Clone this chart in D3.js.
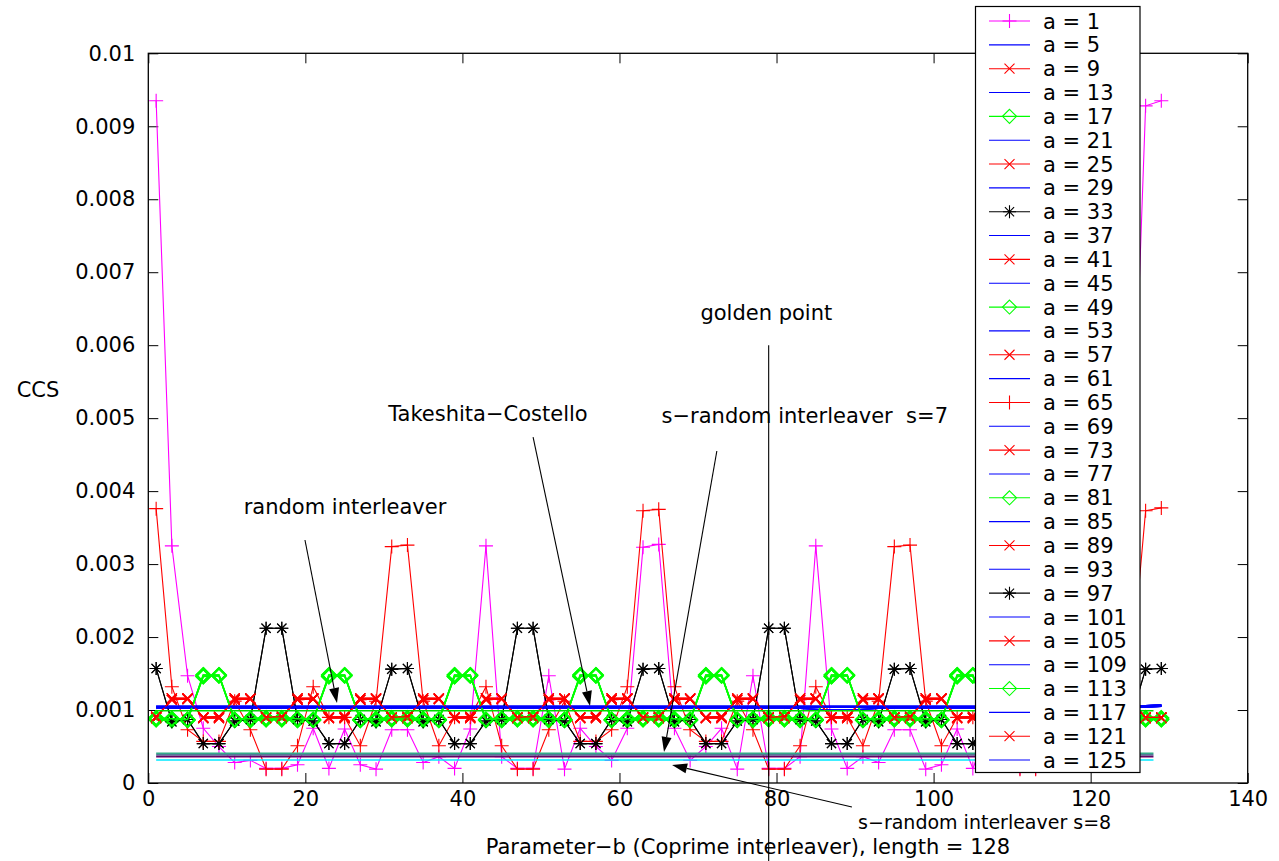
<!DOCTYPE html>
<html>
<head>
<meta charset="utf-8">
<script src="https://cdn.jsdelivr.net/npm/d3@7"></script>
<style>
  body { margin: 0; background: #fff; }
  text { font-family: "DejaVu Sans", sans-serif; fill: #000; white-space: pre; }
</style>
</head>
<body>
<svg id="chart" width="1279" height="861"></svg>
<script>
// CCS values are in units of 1e-3
const bValues = [1,3,5,7,9,11,13,15,17,19,21,23,25,27,29,31,33,35,37,39,41,43,45,47,49,51,53,55,57,59,61,63,65,
  67,69,71,73,75,77,79,81,83,85,87,89,91,93,95,97,99,101,103,105,107,109,111,113,115,117,119,121,123,125,127,129]

const ccsA1 = [9.35,3.25,1.47,0.75,0.50,0.28,0.31,0.20,0.20,0.25,0.75,0.20,0.74,0.25,0.19,0.73,0.73,0.28,0.36,0.20,
  0.74,3.25,0.36,0.20,0.20,1.47,0.19,0.75,0.50,0.31,0.75,3.23,3.27,0.75,0.31,0.50,0.75,0.19,1.47,0.20,
  0.20,0.36,3.25,0.74,0.20,0.36,0.28,0.73,0.73,0.19,0.25,0.74,0.20,0.75,0.25,0.20,0.20,0.31,0.28,0.50,
  0.75,1.47,3.25,9.28,9.35]

const ccsA65 = [3.76,1.32,0.73,0.57,0.57,1.12,0.73,0.19,0.19,0.51,1.32,0.90,0.90,0.51,1.12,3.24,3.26,1.12,0.51,0.90,
  0.90,1.32,0.51,0.19,0.19,0.73,1.12,0.57,0.57,0.73,1.32,3.73,3.75,1.32,0.73,0.57,0.57,1.12,0.73,0.19,
  0.19,0.51,1.32,0.90,0.90,0.51,1.12,3.24,3.26,1.12,0.51,0.90,0.90,1.32,0.51,0.19,0.19,0.73,1.12,0.57,
  0.57,0.73,1.32,3.73,3.77]

const ccsBlack = [1.57,0.84,0.87,0.54,0.54,0.85,0.87,2.12,2.12,0.87,0.85,0.54,0.54,0.87,0.84,1.56,
  1.57,0.84,0.87,0.54,0.54,0.85,0.87,2.12,2.12,0.87,0.85,0.54,0.54,0.87,0.84,1.56,
  1.57,0.84,0.87,0.54,0.54,0.85,0.87,2.12,2.12,0.87,0.85,0.54,0.54,0.87,0.84,1.56,
  1.57,0.84,0.87,0.54,0.54,0.85,0.87,2.12,2.12,0.87,0.85,0.54,0.54,0.87,0.84,1.56,1.57]

const ccsGreenA = [0.87,0.86,0.86,1.48,1.48,0.86,0.86,0.87,0.87,0.86,0.86,1.48,1.48,0.86,0.86,0.87,
  0.87,0.86,0.86,1.48,1.48,0.86,0.86,0.87,0.87,0.86,0.86,1.48,1.48,0.86,0.86,0.87,
  0.87,0.86,0.86,1.48,1.48,0.86,0.86,0.87,0.87,0.86,0.86,1.48,1.48,0.86,0.86,0.87,
  0.87,0.86,0.86,1.48,1.48,0.86,0.86,0.87,0.87,0.86,0.86,1.48,1.48,0.86,0.86,0.87,0.87]
const ccsGreenB = [0.89,0.88,0.87,1.46,1.47,0.87,0.88,0.89,0.89,0.88,0.87,1.46,1.47,0.87,0.88,0.89,
  0.89,0.88,0.87,1.46,1.47,0.87,0.88,0.89,0.89,0.88,0.87,1.46,1.47,0.87,0.88,0.89,
  0.89,0.88,0.87,1.46,1.47,0.87,0.88,0.89,0.89,0.88,0.87,1.46,1.47,0.87,0.88,0.89,
  0.89,0.88,0.87,1.46,1.47,0.87,0.88,0.89,0.89,0.88,0.87,1.46,1.47,0.87,0.88,0.89,0.89]

const ccsRedXA = [0.89,1.16,1.16,0.89,0.89,1.16,1.16,0.89,0.89,1.16,1.16,0.89,0.89,1.16,1.16,0.89,
  0.89,1.16,1.16,0.89,0.89,1.16,1.16,0.89,0.89,1.16,1.16,0.89,0.89,1.16,1.16,0.89,
  0.89,1.16,1.16,0.89,0.89,1.16,1.16,0.89,0.89,1.16,1.16,0.89,0.89,1.16,1.16,0.89,
  0.89,1.16,1.16,0.89,0.89,1.16,1.16,0.89,0.89,1.16,1.16,0.89,0.89,1.16,1.16,0.89,0.89]
const ccsRedXB = [0.91,1.14,1.15,0.90,0.91,1.14,1.15,0.90,0.91,1.14,1.15,0.90,0.91,1.14,1.15,0.90,
  0.91,1.14,1.15,0.90,0.91,1.14,1.15,0.90,0.91,1.14,1.15,0.90,0.91,1.14,1.15,0.90,
  0.91,1.14,1.15,0.90,0.91,1.14,1.15,0.90,0.91,1.14,1.15,0.90,0.91,1.14,1.15,0.90,
  0.91,1.14,1.15,0.90,0.91,1.14,1.15,0.90,0.91,1.14,1.15,0.90,0.91,1.14,1.15,0.90,0.90]

const ccsBlue1 = [1.04,1.04,1.04,1.04,1.04,1.04,1.04,1.04,1.04,1.04,1.04,1.04,1.04,1.04,1.04,1.04,
  1.04,1.04,1.04,1.04,1.04,1.04,1.04,1.04,1.04,1.04,1.04,1.04,1.04,1.04,1.04,1.04,
  1.04,1.04,1.04,1.04,1.04,1.04,1.04,1.04,1.04,1.04,1.04,1.04,1.04,1.04,1.04,1.04,
  1.04,1.04,1.04,1.04,1.04,1.04,1.04,1.04,1.04,1.04,1.04,1.04,1.04,1.04,1.04,1.05,1.06]
const ccsBlue2 = [1.03,1.03,1.02,1.03,1.03,1.03,1.03,1.02,1.03,1.03,1.03,1.03,1.03,1.02,1.03,1.03,
  1.03,1.03,1.03,1.03,1.02,1.03,1.03,1.03,1.03,1.03,1.03,1.02,1.03,1.03,1.03,1.03,
  1.03,1.03,1.03,1.03,1.03,1.03,1.03,1.03,1.03,1.02,1.01,1.00,1.00,1.01,1.02,1.03,
  1.03,1.03,1.03,1.03,1.03,1.03,1.03,1.03,1.03,1.03,1.03,1.03,1.03,1.03,1.03,1.04,1.05]
const ccsBlue3 = [1.05,1.05,1.05,1.05,1.05,1.05,1.05,1.05,1.05,1.05,1.05,1.05,1.05,1.05,1.05,1.05,
  1.05,1.05,1.05,1.05,1.05,1.05,1.05,1.05,1.05,1.05,1.05,1.05,1.05,1.05,1.05,1.05,
  1.05,1.05,1.05,1.05,1.05,1.05,1.05,1.05,1.05,1.05,1.05,1.05,1.05,1.05,1.05,1.05,
  1.05,1.05,1.05,1.05,1.05,1.05,1.05,1.05,1.05,1.05,1.05,1.05,1.05,1.05,1.05,1.06,1.07]

// legend order: a = 1, 5, 9, ... 125
const aValues = [1,5,9,13,17,21,25,29,33,37,41,45,49,53,57,61,65,69,73,77,81,85,89,93,97,101,105,109,113,117,121,125]
const seriesData = [ccsA1,ccsBlue1,ccsRedXA,ccsBlue2,ccsGreenA,ccsBlue3,ccsRedXB,ccsBlue1,ccsBlack,ccsBlue2,ccsRedXA,
  ccsBlue3,ccsGreenB,ccsBlue1,ccsRedXB,ccsBlue2,ccsA65,ccsBlue3,ccsRedXA,ccsBlue1,ccsGreenA,ccsBlue2,ccsRedXB,ccsBlue3,
  ccsBlack,ccsBlue1,ccsRedXA,ccsBlue2,ccsGreenB,ccsBlue3,ccsRedXB,ccsBlue1]
const seriesColor = ["#ff00ff","#0000ff","#ff0000","#0000ff","#00ff00","#0000ff","#ff0000","#0000ff","#000000","#0000ff",
  "#ff0000","#0000ff","#00ff00","#0000ff","#ff0000","#0000ff","#ff0000","#0000ff","#ff0000","#0000ff","#00ff00","#0000ff",
  "#ff0000","#0000ff","#000000","#0000ff","#ff0000","#0000ff","#00ff00","#0000ff","#ff0000","#0000ff"]
const seriesMarker = ["plus","none","x","none","diamond","none","x","none","star","none","x","none","diamond","none","x","none",
  "plus","none","x","none","diamond","none","x","none","star","none","x","none","diamond","none","x","none"]

// horizontal reference levels (no legend entry), b from 1 to 128
const refLevels = [0.99, 0.407, 0.385, 0.362, 0.315]
const refColors = ["#00dd00", "#33aa88", "#557799", "#660066", "#00e8ff"]
const refSpan = [1, 128]

const xTicks = [0,20,40,60,80,100,120,140]
const yTicks = [0,1,2,3,4,5,6,7,8,9,10]
const yTickLabels = ["0","0.001","0.002","0.003","0.004","0.005","0.006","0.007","0.008","0.009","0.01"]

const width = 1279, height = 861
const margin = { top: 53.3, right: 31.3, bottom: 78, left: 148.3 }

const svg = d3.select("#chart")
const x = d3.scaleLinear().domain([0, 140]).range([margin.left, width - margin.right])
const y = d3.scaleLinear().domain([0, 10]).range([height - margin.bottom, margin.top])

const markerPath = {
  plus: "M-7,0H7M0,-7V7",
  x: "M-5,-5L5,5M-5,5L5,-5",
  diamond: "M0,-7L7,0L0,7L-7,0Z",
  star: "M-6.5,0H6.5M0,-6.5V6.5M-4.6,-4.6L4.6,4.6M-4.6,4.6L4.6,-4.6",
  none: ""
}

// axes: MATLAB style box, ticks pointing inward
svg.append("g")
  .attr("transform", `translate(${margin.left},0)`)
  .call(d3.axisLeft(y).tickValues(yTicks).tickSizeInner(-10).tickSizeOuter(0).tickPadding(13)
    .tickFormat((d, i) => yTickLabels[i]))
  .call(g => g.select(".domain").remove())
  .call(g => g.selectAll("text").attr("font-size", 21).attr("font-family", "DejaVu Sans"))
svg.append("g")
  .attr("transform", `translate(${width - margin.right},0)`)
  .call(d3.axisRight(y).tickValues(yTicks).tickSizeInner(-10).tickSizeOuter(0).tickFormat(""))
  .call(g => g.select(".domain").remove())
svg.append("g")
  .attr("transform", `translate(0,${height - margin.bottom})`)
  .call(d3.axisBottom(x).tickValues(xTicks).tickSizeInner(-10).tickSizeOuter(0).tickPadding(8))
  .call(g => g.select(".domain").remove())
  .call(g => g.selectAll("text").attr("font-size", 21).attr("font-family", "DejaVu Sans"))
svg.append("g")
  .attr("transform", `translate(0,${margin.top})`)
  .call(d3.axisTop(x).tickValues(xTicks).tickSizeInner(-10).tickSizeOuter(0).tickFormat(""))
  .call(g => g.select(".domain").remove())

const plot = svg.append("g")

const line = d3.line()
  .x((d, i) => x(bValues[i]))
  .y(d => y(d))

seriesData.forEach((data, k) => {
  const g = plot.append("g")
  g.append("path")
    .datum(data)
    .attr("fill", "none")
    .attr("stroke", seriesColor[k])
    .attr("stroke-width", seriesMarker[k] === "diamond" ? 1.6 : 1.1)
    .attr("d", line)
  if (seriesMarker[k] !== "none") {
    g.selectAll("path.mk")
      .data(data)
      .join("path")
      .attr("class", "mk")
      .attr("transform", (d, i) => `translate(${x(bValues[i])},${y(d)})`)
      .attr("d", markerPath[seriesMarker[k]])
      .attr("fill", "none")
      .attr("stroke", seriesColor[k])
      .attr("stroke-width", seriesMarker[k] === "diamond" ? 1.8 : 1.1)
  }
})

refLevels.forEach((v, k) => {
  plot.append("path")
    .datum(refSpan)
    .attr("fill", "none")
    .attr("stroke", refColors[k])
    .attr("stroke-width", 1.6)
    .attr("d", d3.line().x(b => x(b)).y(() => y(v)))
})

// plot box
svg.append("rect")
  .attr("x", margin.left).attr("y", margin.top)
  .attr("width", width - margin.right - margin.left)
  .attr("height", height - margin.bottom - margin.top)
  .attr("fill", "none").attr("stroke", "#000").attr("stroke-width", 1.3)

// axis titles
svg.append("text").attr("x", 38).attr("y", 397).attr("text-anchor", "middle").attr("font-size", 21).text("CCS")
svg.append("text").attr("x", 748).attr("y", 853.5).attr("text-anchor", "middle").attr("font-size", 21)
  .text("Parameter\u2212b (Coprime interleaver), length = 128")

// annotations, positions in data units
const notes = [
  { text: "random interleaver", tx: 25.05, ty: 3.69, size: 21, from: [19.95, 3.33], to: [24.03, 1.096] },
  { text: "Takeshita\u2212Costello", tx: 43.25, ty: 4.96, size: 21, from: [49.0, 4.74], to: [56.25, 1.055] },
  { text: "s\u2212random interleaver  s=7", tx: 83.6, ty: 4.93, size: 21, from: [72.4, 4.55], to: [65.67, 0.425] },
  { text: "s\u2212random interleaver s=8", tx: 106.5, ty: -0.635, size: 19, from: [89.6, -0.33], to: [66.7, 0.247] }
]
const golden = { text: "golden point", tx: 78.7, ty: 6.34, b: 79, top: 6.0, bottom: -1.07 }

const ann = svg.append("g")
notes.forEach(n => {
  ann.append("text").attr("x", x(n.tx)).attr("y", y(n.ty)).attr("text-anchor", "middle")
    .attr("font-size", n.size).text(n.text)
  const x1 = x(n.from[0]), y1 = y(n.from[1]), x2 = x(n.to[0]), y2 = y(n.to[1])
  const ang = Math.atan2(y2 - y1, x2 - x1)
  const len = 15, hw = 5
  const bx = x2 - len * Math.cos(ang), by = y2 - len * Math.sin(ang)
  ann.append("line").attr("x1", x1).attr("y1", y1).attr("x2", bx).attr("y2", by)
    .attr("stroke", "#000").attr("stroke-width", 1.1)
  ann.append("path")
    .attr("d", `M${x2},${y2}L${bx + hw * Math.sin(ang)},${by - hw * Math.cos(ang)}L${bx - hw * Math.sin(ang)},${by + hw * Math.cos(ang)}Z`)
    .attr("fill", "#000")
})
ann.append("text").attr("x", x(golden.tx)).attr("y", y(golden.ty)).attr("text-anchor", "middle")
  .attr("font-size", 21).text(golden.text)
ann.append("line")
  .attr("x1", x(golden.b)).attr("x2", x(golden.b))
  .attr("y1", y(golden.top)).attr("y2", y(golden.bottom))
  .attr("stroke", "#000").attr("stroke-width", 1.1)

// legend
const legX = 975.5, legY = 6.5, legW = 164.5, legH = 766
const legend = svg.append("g")
legend.append("rect").attr("x", legX).attr("y", legY).attr("width", legW).attr("height", legH)
  .attr("fill", "#fff").attr("stroke", "#000").attr("stroke-width", 1.2)
aValues.forEach((a, k) => {
  const cy = 21 + k * 23.84
  const row = legend.append("g")
  row.append("line").attr("x1", 989).attr("x2", 1030).attr("y1", cy).attr("y2", cy)
    .attr("stroke", seriesColor[k]).attr("stroke-width", 1.1)
  if (seriesMarker[k] !== "none") {
    row.append("path").attr("transform", `translate(1009.5,${cy})`)
      .attr("d", markerPath[seriesMarker[k]]).attr("fill", "none")
      .attr("stroke", seriesColor[k]).attr("stroke-width", 1.1)
  }
  row.append("text").attr("x", 1043).attr("y", cy + 7.5).attr("font-size", 21).text(`a = ${a}`)
})
</script>
</body>
</html>
